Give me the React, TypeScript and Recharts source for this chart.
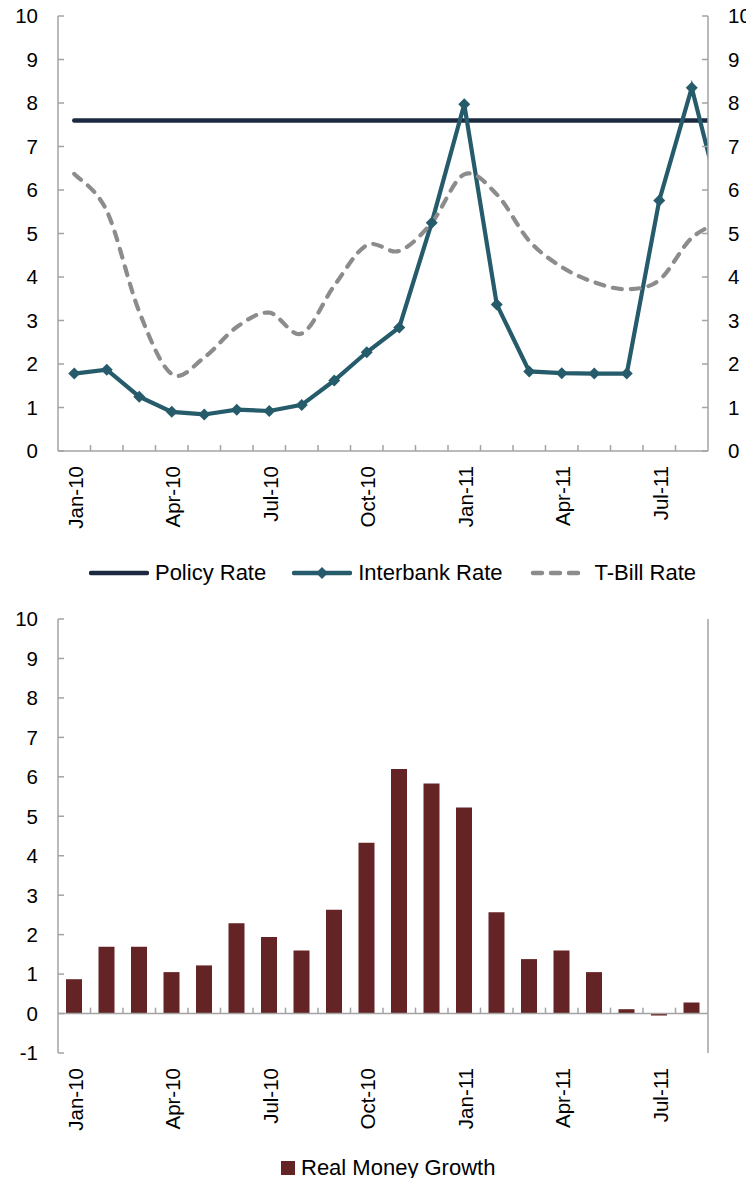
import React from 'react';
import { LineChart, Line, BarChart, Bar, XAxis, YAxis, Legend, ReferenceLine } from 'recharts';

// ---------- data ----------
const months = [
  'Jan-10', 'Feb-10', 'Mar-10', 'Apr-10', 'May-10', 'Jun-10', 'Jul-10', 'Aug-10', 'Sep-10', 'Oct-10',
  'Nov-10', 'Dec-10', 'Jan-11', 'Feb-11', 'Mar-11', 'Apr-11', 'May-11', 'Jun-11', 'Jul-11', 'Aug-11', 'Sep-11',
];
const labeledMonths = ['Jan-10', 'Apr-10', 'Jul-10', 'Oct-10', 'Jan-11', 'Apr-11', 'Jul-11'];
const shownMonthCount = 20;

const policyRate = [7.6, 7.6, 7.6, 7.6, 7.6, 7.6, 7.6, 7.6, 7.6, 7.6, 7.6, 7.6, 7.6, 7.6, 7.6, 7.6, 7.6, 7.6, 7.6, 7.6, 7.6];
const interbankRate = [1.78, 1.87, 1.25, 0.9, 0.84, 0.95, 0.92, 1.06, 1.62, 2.27, 2.84, 5.25, 7.97, 3.37, 1.83, 1.79, 1.78, 1.78, 5.76, 8.35, 5.4];
const tBillRate = [6.37, 5.52, 3.2, 1.77, 2.15, 2.85, 3.18, 2.7, 3.8, 4.73, 4.6, 5.25, 6.36, 5.9, 4.83, 4.23, 3.88, 3.72, 3.93, 4.9, 5.3];
const realMoneyGrowth = [0.87, 1.69, 1.69, 1.05, 1.22, 2.29, 1.94, 1.6, 2.63, 4.33, 6.2, 5.83, 5.22, 2.57, 1.38, 1.6, 1.05, 0.11, -0.05, 0.28];

const rateTicks = [0, 1, 2, 3, 4, 5, 6, 7, 8, 9, 10];
const growthTicks = [-1, 0, 1, 2, 3, 4, 5, 6, 7, 8, 9, 10];

const rateSeriesOrder = ['policy', 'interbank', 'tbill'];
const rateNames: Record<string, string> = { policy: 'Policy Rate', interbank: 'Interbank Rate', tbill: 'T-Bill Rate' };
const growthName = 'Real Money Growth';

// ---------- tables built from the arrays ----------
const rateData = months.map((m, i) => ({
  x: i + 0.5,
  month: m,
  policy: policyRate[i],
  interbank: interbankRate[i],
  tbill: tBillRate[i],
}));
const growthData = realMoneyGrowth.map((v, i) => ({ x: i + 0.5, month: months[i], growth: v }));
const xTicks = Array.from({ length: shownMonthCount * 2 + 1 }, (_, i) => i / 2);
const boundaryTicks = Array.from({ length: shownMonthCount - 1 }, (_, i) => i + 1);

// ---------- styles ----------
const FONT = '"Liberation Sans", Arial, Helvetica, sans-serif';
const AXIS = '#A3A3A3';
const POLICY = '#1B2A41';
const INTERBANK = '#255B6A';
const TBILL = '#8C8C8C';
const BAR = '#642426';
const TICK_FS = 20.5;
const LEGEND_FS = 22;

// Excel-like smoothed line (Catmull-Rom as cubic Bezier)
function excelSmooth(context: any) {
  let xs: number[] = [];
  let ys: number[] = [];
  return {
    areaStart() {},
    areaEnd() {},
    lineStart() {
      xs = [];
      ys = [];
    },
    point(x: number, y: number) {
      xs.push(+x);
      ys.push(+y);
    },
    lineEnd() {
      const n = xs.length;
      if (!n) return;
      context.moveTo(xs[0], ys[0]);
      for (let i = 0; i < n - 1; i++) {
        const a = Math.max(i - 1, 0);
        const d = Math.min(i + 2, n - 1);
        const c1x = xs[i] + (xs[i + 1] - xs[a]) / 6;
        const c1y = ys[i] + (ys[i + 1] - ys[a]) / 6;
        const c2x = xs[i + 1] - (xs[d] - xs[i]) / 6;
        const c2y = ys[i + 1] - (ys[d] - ys[i]) / 6;
        context.bezierCurveTo(c1x, c1y, c2x, c2y, xs[i + 1], ys[i + 1]);
      }
    },
  };
}

const makeXTick = (showMarks: boolean) => (props: any) => {
  const { x, y, payload } = props;
  const v = payload.value as number;
  if (Number.isInteger(v)) {
    if (!showMarks || v === 0 || v === shownMonthCount) return <g />;
    return <line x1={x} x2={x} y1={y} y2={y - 6} stroke={AXIS} strokeWidth={1.5} />;
  }
  const label = months[v - 0.5];
  if (!labeledMonths.includes(label)) return <g />;
  const ty = y + 15;
  return (
    <text
      x={x}
      y={ty}
      dy="0.42em"
      transform={`rotate(-90 ${x} ${ty})`}
      textAnchor="end"
      fontSize={TICK_FS}
      fontFamily={FONT}
      fill="#000"
    >
      {label}
    </text>
  );
};

const LeftYTick = (props: any) => {
  const { x, y, payload } = props;
  return (
    <g>
      <line x1={x} x2={x + 6} y1={y} y2={y} stroke={AXIS} strokeWidth={1.5} />
      <text x={x - 20} y={y} dy="0.36em" textAnchor="end" fontSize={TICK_FS} fontFamily={FONT} fill="#000">
        {payload.value}
      </text>
    </g>
  );
};

const RightYTick = (props: any) => {
  const { x, y, payload } = props;
  return (
    <g>
      <line x1={x} x2={x - 6} y1={y} y2={y} stroke={AXIS} strokeWidth={1.5} />
      <text x={x + 20} y={y} dy="0.36em" textAnchor="start" fontSize={TICK_FS} fontFamily={FONT} fill="#000">
        {payload.value}
      </text>
    </g>
  );
};

const Diamond = (props: any) => {
  const { cx, cy, index } = props;
  if (cx == null || cy == null) return <g key={`d-${index}`} />;
  const r = 6;
  return (
    <path
      key={`d-${index}`}
      d={`M${cx},${cy - r}L${cx + r},${cy}L${cx},${cy + r}L${cx - r},${cy}Z`}
      fill={INTERBANK}
      stroke="none"
    />
  );
};

const LineSymbol = ({ kind, color }: { kind: string; color: string }) => (
  <svg width={60} height={14} style={{ display: 'block' }}>
    {kind === 'tbill' ? (
      <line x1={4} y1={7} x2={56} y2={7} stroke={color} strokeWidth={4.5} strokeDasharray="9 9" strokeLinecap="round" />
    ) : (
      <line x1={2} y1={7} x2={58} y2={7} stroke={color} strokeWidth={4.5} strokeLinecap="round" />
    )}
    {kind === 'interbank' ? <path d="M30,1L36,7L30,13L24,7Z" fill={color} /> : null}
  </svg>
);

const RateLegend = (props: any) => {
  const raw = (props.payload || []) as any[];
  const payload = rateSeriesOrder
    .map((key) => raw.find((e: any) => e.dataKey === key))
    .filter(Boolean) as any[];
  return (
    <div
      style={{
        height: 40,
        display: 'flex',
        justifyContent: 'center',
        alignItems: 'center',
        paddingLeft: 31,
        fontFamily: FONT,
        fontSize: LEGEND_FS,
        color: '#000',
      }}
    >
      {payload.map((entry: any, i: number) => (
        <div key={entry.dataKey} style={{ display: 'flex', alignItems: 'center', marginRight: i < payload.length - 1 ? 26 : 0 }}>
          <LineSymbol kind={entry.dataKey} color={entry.color} />
          <span style={{ marginLeft: 6, whiteSpace: 'nowrap' }}>{entry.value}</span>
        </div>
      ))}
    </div>
  );
};

const GrowthLegend = (props: any) => {
  const payload = (props.payload || []) as any[];
  const entry = payload[0];
  if (!entry) return null;
  return (
    <svg width={754} height={36} style={{ display: 'block', overflow: 'visible' }}>
      <rect x={281} y={11} width={14} height={14} fill={entry.color} />
      <text x={301} y={25} fontSize={LEGEND_FS} fontFamily={FONT} fill="#000">
        {entry.value}
      </text>
    </svg>
  );
};

export default function App() {
  return (
    <div style={{ position: 'relative', width: 754, height: 1186, margin: -8, overflow: 'hidden', fontFamily: FONT, background: '#fff' }}>
      <div style={{ position: 'absolute', left: 0, top: 0 }}>
        <LineChart width={754} height={593} data={rateData} margin={{ top: 16, right: 0, bottom: 0, left: 0 }}>
          <XAxis
            dataKey="x"
            type="number"
            domain={[0, shownMonthCount]}
            ticks={xTicks}
            interval={0}
            allowDataOverflow
            tickLine={false}
            tickSize={0}
            tickMargin={0}
            height={102}
            axisLine={{ stroke: AXIS, strokeWidth: 1.5 }}
            tick={makeXTick(true)}
          />
          <YAxis
            yAxisId="left"
            orientation="left"
            domain={[0, 10]}
            ticks={rateTicks}
            interval={0}
            width={58}
            tickLine={false}
            tickSize={0}
            tickMargin={0}
            axisLine={{ stroke: AXIS, strokeWidth: 1.5 }}
            tick={LeftYTick}
            allowDataOverflow
          />
          <YAxis
            yAxisId="right"
            orientation="right"
            domain={[0, 10]}
            ticks={rateTicks}
            interval={0}
            width={46}
            tickLine={false}
            tickSize={0}
            tickMargin={0}
            axisLine={{ stroke: AXIS, strokeWidth: 1.5 }}
            tick={RightYTick}
            allowDataOverflow
          />
          <Legend verticalAlign="bottom" align="center" height={40} content={RateLegend} />
          <Line
            yAxisId="left"
            dataKey="policy"
            name={rateNames.policy}
            stroke={POLICY}
            strokeWidth={4.5}
            dot={false}
            activeDot={false}
            type="linear"
            strokeLinecap="round"
            isAnimationActive={false}
          />
          <Line
            yAxisId="left"
            dataKey="interbank"
            name={rateNames.interbank}
            stroke={INTERBANK}
            strokeWidth={4.2}
            dot={Diamond}
            activeDot={false}
            type="linear"
            isAnimationActive={false}
          />
          <Line
            yAxisId="left"
            dataKey="tbill"
            name={rateNames.tbill}
            stroke={TBILL}
            strokeWidth={4.2}
            strokeDasharray="9 9"
            strokeLinecap="round"
            dot={false}
            activeDot={false}
            type={excelSmooth as any}
            isAnimationActive={false}
          />
        </LineChart>
      </div>
      <div style={{ position: 'absolute', left: 0, top: 600 }}>
        <BarChart width={754} height={586} data={growthData} margin={{ top: 19, right: 0, bottom: 0, left: 0 }}>
          <XAxis
            dataKey="x"
            type="number"
            domain={[0, shownMonthCount]}
            ticks={xTicks}
            interval={0}
            tickLine={false}
            tickSize={0}
            tickMargin={0}
            height={97}
            axisLine={false}
            tick={makeXTick(false)}
          />
          <YAxis
            yAxisId="left"
            orientation="left"
            domain={[-1, 10]}
            ticks={growthTicks}
            interval={0}
            width={58}
            tickLine={false}
            tickSize={0}
            tickMargin={0}
            axisLine={{ stroke: AXIS, strokeWidth: 1.5 }}
            tick={LeftYTick}
          />
          <YAxis
            yAxisId="right"
            orientation="right"
            domain={[-1, 10]}
            ticks={growthTicks}
            interval={0}
            width={46}
            tickLine={false}
            tickSize={0}
            tickMargin={0}
            axisLine={{ stroke: AXIS, strokeWidth: 1.5 }}
            tick={RightYTick}
          />
          <Legend verticalAlign="bottom" align="center" height={36} content={GrowthLegend} />
          <Bar yAxisId="left" dataKey="growth" name={growthName} fill={BAR} barSize={16} isAnimationActive={false} />
          <ReferenceLine yAxisId="left" y={0} stroke={AXIS} strokeWidth={1.5} />
          {boundaryTicks.map((k) => (
            <ReferenceLine
              key={`bt-${k}`}
              yAxisId="left"
              segment={[
                { x: k, y: 0 },
                { x: k, y: 0.15 },
              ]}
              stroke={AXIS}
              strokeWidth={1.5}
            />
          ))}
        </BarChart>
      </div>
    </div>
  );
}
